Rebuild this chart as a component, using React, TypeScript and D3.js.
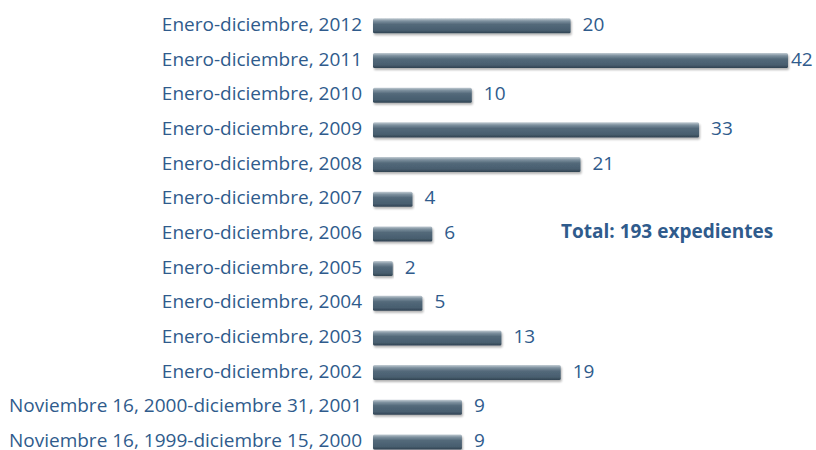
import React from "react";
import * as d3 from "d3";

const categories = [
  "Enero-diciembre, 2012",
  "Enero-diciembre, 2011",
  "Enero-diciembre, 2010",
  "Enero-diciembre, 2009",
  "Enero-diciembre, 2008",
  "Enero-diciembre, 2007",
  "Enero-diciembre, 2006",
  "Enero-diciembre, 2005",
  "Enero-diciembre, 2004",
  "Enero-diciembre, 2003",
  "Enero-diciembre, 2002",
  "Noviembre 16, 2000-diciembre 31, 2001",
  "Noviembre 16, 1999-diciembre 15, 2000",
];
const values = [20, 42, 10, 33, 21, 4, 6, 2, 5, 13, 19, 9, 9];
const totalLabel = "Total: 193 expedientes";

const W = 816;
const H = 450;
const TEXT = "#2f5b8c";
const FONT = "'Open Sans', 'Noto Sans', sans-serif";

export default function App() {
  const x = d3.scaleLinear().domain([0, 42]).range([373, 788]);
  const y = d3
    .scaleBand<string>()
    .domain(categories)
    .range([8.5, 459.3])
    .paddingInner(0.567)
    .paddingOuter(0.2835);
  const bh = y.bandwidth();
  return (
    <svg width={W} height={H} style={{ position: "absolute", left: 0, top: 0 }}>
      <defs>
        <linearGradient id="barg" x1="0" y1="0" x2="0" y2="1">
          <stop offset="0" stopColor="#c2ccd3" />
          <stop offset="0.18" stopColor="#7d909e" />
          <stop offset="0.4" stopColor="#53697a" />
          <stop offset="0.8" stopColor="#485e6f" />
          <stop offset="1" stopColor="#2f4251" />
        </linearGradient>
        <filter id="sh" x="-5%" y="-30%" width="110%" height="180%">
          <feGaussianBlur in="SourceAlpha" stdDeviation="1.2" />
          <feOffset dx="1" dy="1.5" result="b" />
          <feComponentTransfer>
            <feFuncA type="linear" slope="0.3" />
          </feComponentTransfer>
          <feMerge>
            <feMergeNode />
            <feMergeNode in="SourceGraphic" />
          </feMerge>
        </filter>
      </defs>
      {categories.map((c, i) => {
        const y0 = y(c)!;
        const cy = y0 + bh / 2;
        const xe = x(values[i]);
        return (
          <g key={c}>
            <text
              x={362}
              y={cy - 1.5}
              dy="0.35em"
              textAnchor="end"
              fontFamily={FONT}
              fontSize={19}
              fill={TEXT}
            >
              {c}
            </text>
            <rect
              x={x(0)}
              y={y0}
              width={xe - x(0)}
              height={bh}
              rx={1.5}
              fill="url(#barg)"
              filter="url(#sh)"
            />
            <text
              x={Math.min(xe + 12, 791)}
              y={cy - 1.5}
              dy="0.35em"
              fontFamily={FONT}
              fontSize={19}
              fill={TEXT}
            >
              {values[i]}
            </text>
          </g>
        );
      })}
      <text
        x={561}
        y={231}
        dy="0.35em"
        fontFamily={FONT}
        fontSize={19}
        fontWeight="bold"
        fill={TEXT}
      >
        {totalLabel}
      </text>
    </svg>
  );
}
